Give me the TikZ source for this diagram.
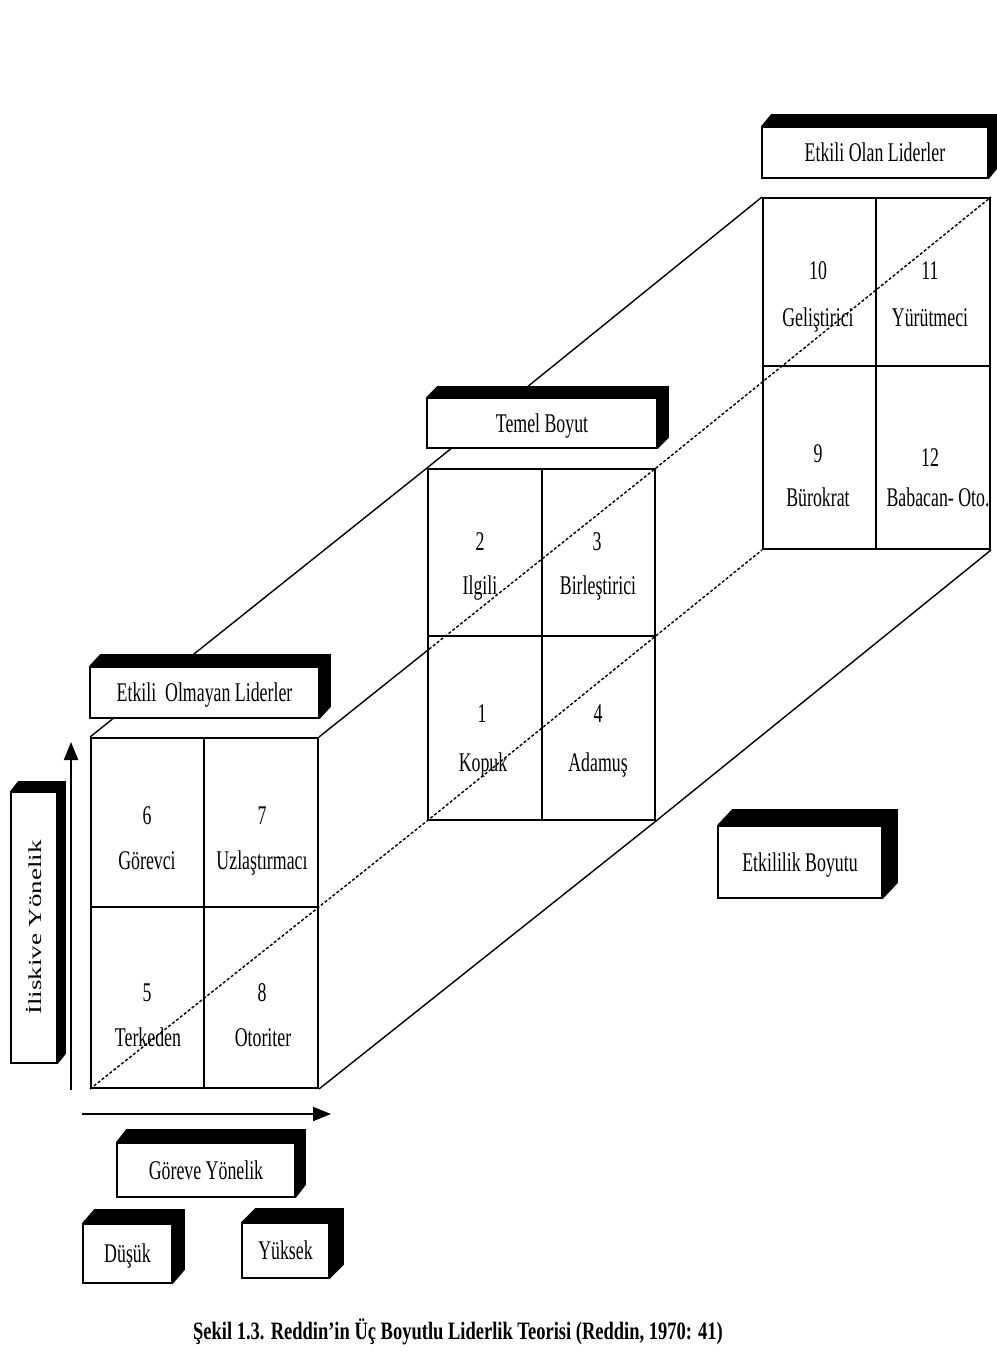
\documentclass[tikz,border=0pt]{standalone}
\usepackage{fontspec}
\setmainfont{Liberation Serif}
\newfontfamily\narrowserif[FakeStretch=0.66]{Liberation Serif}
\newfontfamily\captionserif[FakeStretch=0.74]{Liberation Serif}
\usetikzlibrary{calc,arrows.meta}

% one cell of a 2x2 grid, given by its corners
\newcommand{\cellbox}[5]{%
  \node[cell, minimum width={#4-#2}, minimum height={#5-#3}] (#1) at ({(#2+#4)/2},{(#3+#5)/2}) {};}
% a label face with a black extrusion up and to the right
\newcommand{\labelbox}[8]{%
  \node[face, txt, minimum width={#4-#2}, minimum height={#5-#3}] (#1) at ({(#2+#4)/2},{(#3+#5)/2}) {#8};
  \fill[black] (#1.north west) -- ++(#6,-#7) -- ([shift={(#6,-#7)}]#1.north east)
    -- ([shift={(#6,-#7)}]#1.south east) -- (#1.south east) -- (#1.north east) -- cycle;}

\begin{document}
\begin{tikzpicture}[x=1pt,y=-1pt,
  cell/.style={draw, line width=2pt, inner sep=0pt},
  txt/.style={inner sep=0pt, text height=18pt, text depth=0pt,
    font=\narrowserif\fontsize{27}{31}\selectfont},
  face/.style={draw, fill=white, line width=1.7pt, inner sep=0pt},
  edgeline/.style={line width=1.4pt},
  hidden/.style={line width=1.4pt, dash pattern=on 3pt off 2pt},
  axis/.style={line width=2pt, -{Triangle[length=18pt,width=14pt]}}]

\fill[white] (0,0) rectangle (996,1364);
\useasboundingbox (0,0) rectangle (996,1364);

% front grid
\cellbox{f6}{91}{738}{204}{907}
\cellbox{f7}{204}{738}{318}{907}
\cellbox{f5}{91}{907}{204}{1088}
\cellbox{f8}{204}{907}{318}{1088}
% middle grid
\cellbox{m2}{428}{469}{542}{636}
\cellbox{m3}{542}{469}{655}{636}
\cellbox{m1}{428}{636}{542}{820}
\cellbox{m4}{542}{636}{655}{820}
% back grid
\cellbox{b10}{763}{198}{876}{366}
\cellbox{b11}{876}{198}{990}{366}
\cellbox{b9}{763}{366}{876}{549}
\cellbox{b12}{876}{366}{990}{549}

% cell texts
\node[txt] (f6n) at (147,815) {6};
\node[txt] (f6t) at (147,860) {Görevci};
\node[txt] (f7n) at (262,815) {7};
\node[txt] (f7t) at (262,860) {Uzlaştırmacı};
\node[txt] (f5n) at (147,992) {5};
\node[txt] (f5t) at (148,1037) {Terkeden};
\node[txt] (f8n) at (262,992) {8};
\node[txt] (f8t) at (263,1037) {Otoriter};

\node[txt] (m2n) at (480,541) {2};
\node[txt] (m2t) at (480,585) {Ilgili};
\node[txt] (m3n) at (597,541) {3};
\node[txt] (m3t) at (598,585) {Birleştirici};
\node[txt] (m1n) at (482,713) {1};
\node[txt] (m1t) at (483,762) {Kopuk};
\node[txt] (m4n) at (598,713) {4};
\node[txt] (m4t) at (598,762) {Adamuş};

\node[txt] (b10n) at (818,270) {10};
\node[txt] (b10t) at (818,317) {Geliştirici};
\node[txt] (b11n) at (930,270) {11};
\node[txt] (b11t) at (930,317) {Yürütmeci};
\node[txt] (b9n) at (818,453) {9};
\node[txt] (b9t) at (818,497) {Bürokrat};
\node[txt] (b12n) at (930,457) {12};
\node[txt] (b12t) at (938,497) {Babacan- Oto.};

% edges of the prism joining the three grids
\draw[edgeline] (f6.north west) -- (m2.north west) -- (b10.north west);
\draw[edgeline] (f8.south east) -- (m4.south east) -- (b12.south east);
\coordinate (trcut) at ($(f7.north east)!0.3264!(m3.north east)$);
\draw[edgeline] (f7.north east) -- (trcut);
\draw[hidden] (trcut) -- (m3.north east) -- (b11.north east);
\draw[hidden] (f5.south west) -- (m1.south west) -- (b9.south west);

% axes
\coordinate (yfrom) at (71,1090);
\coordinate (yto) at (71,742);
\draw[axis] (yfrom) -- (yto);
\coordinate (xfrom) at (82,1114);
\coordinate (xto) at (331,1114);
\draw[axis] (xfrom) -- (xto);

% labels
\labelbox{elo}{762}{127}{988}{178}{10}{12}{Etkili Olan Liderler}
\labelbox{tb}{427}{398}{657}{448}{11}{11}{Temel Boyut}
\labelbox{eol}{90}{667}{319}{718}{11}{12}{Etkili\ \ Olmayan Liderler}
\labelbox{gy}{117}{1143}{295}{1197}{10}{13}{Göreve Yönelik}
\labelbox{dus}{83}{1224}{172}{1283}{12}{14}{Düşük\hspace{12pt}}
\labelbox{yuk}{242}{1223}{329}{1278}{14}{14}{Yüksek}
\labelbox{eb}{718}{826}{882}{898}{15}{16}{Etkililik Boyutu}

% vertical label
\node[face, minimum width=46pt, minimum height=271pt] (iy) at (34,927.5)
  {\rotatebox{90}{\scalebox{1}[0.68]{\fontsize{27}{31}\selectfont İliskive Yönelik}}};
\fill[black] (iy.north west) -- ++(8,-10) -- ([shift={(8,-10)}]iy.north east)
  -- ([shift={(8,-10)}]iy.south east) -- (iy.south east) -- (iy.north east) -- cycle;

% caption
\node[inner sep=0pt, font=\captionserif\bfseries\fontsize{25}{29}\selectfont] (cap) at (458,1332)
  {Şekil 1.3. Reddin’in Üç Boyutlu Liderlik Teorisi (Reddin, 1970: 41)};
\end{tikzpicture}
\end{document}
